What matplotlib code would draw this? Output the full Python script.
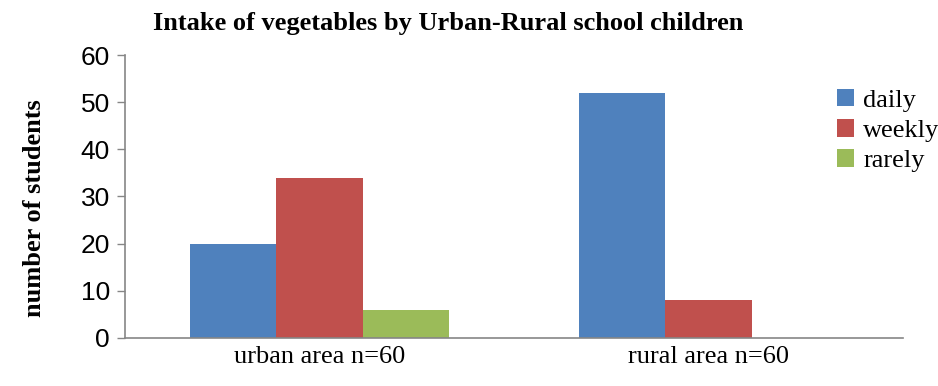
import numpy as np
import matplotlib.pyplot as plt

# vegetable intake counts per area
areas = ['urban area n=60', 'rural area n=60']
daily = [20, 52]
weekly = [34, 8]
rarely = [6, 0]

series = [('daily', daily, '#4F81BD'),
          ('weekly', weekly, '#C0504D'),
          ('rarely', rarely, '#9BBB59')]

fig = plt.figure(figsize=(9.38, 3.86), dpi=100)
ax = fig.add_axes([0.1333, 0.1244, 0.8294, 0.7331])

x = np.arange(len(areas))
w = 0.222
for i, (name, vals, col) in enumerate(series):
    ax.bar(x + (i - 1) * w, vals, width=w, color=col, label=name)

ax.set_xlim(-0.5, 1.5)
ax.set_ylim(0, 60)
ax.set_yticks(range(0, 61, 10))
ax.set_xticks(x)
ax.set_xticklabels(areas, family='Liberation Serif', fontsize=19)
ax.tick_params(axis='x', length=0, pad=6)
ax.tick_params(axis='y', length=6, width=1, color='#868686',
               labelsize=19, pad=5)
for lab in ax.get_yticklabels():
    lab.set_family('Liberation Sans')

for s in ['top', 'right']:
    ax.spines[s].set_visible(False)
for s in ['left', 'bottom']:
    ax.spines[s].set_color('#868686')
    ax.spines[s].set_linewidth(1.2)

ax.set_ylabel('number of students', family='Liberation Serif',
              fontweight='bold', fontsize=19, va='center')
ax.yaxis.set_label_coords(-0.116, 0.46)
fig.text(0.478, 0.94, 'Intake of vegetables by Urban-Rural school children',
         ha='center', va='center', family='Liberation Serif',
         fontweight='bold', fontsize=19)

fig.legend(loc='upper left', bbox_to_anchor=(0.892, 0.77), frameon=False,
           prop={'family': 'Liberation Serif', 'size': 19},
           handlelength=0.65, handleheight=0.65, handletextpad=0.35,
           labelspacing=0.27, borderaxespad=0, borderpad=0)

fig.savefig('out.png', dpi=100)
